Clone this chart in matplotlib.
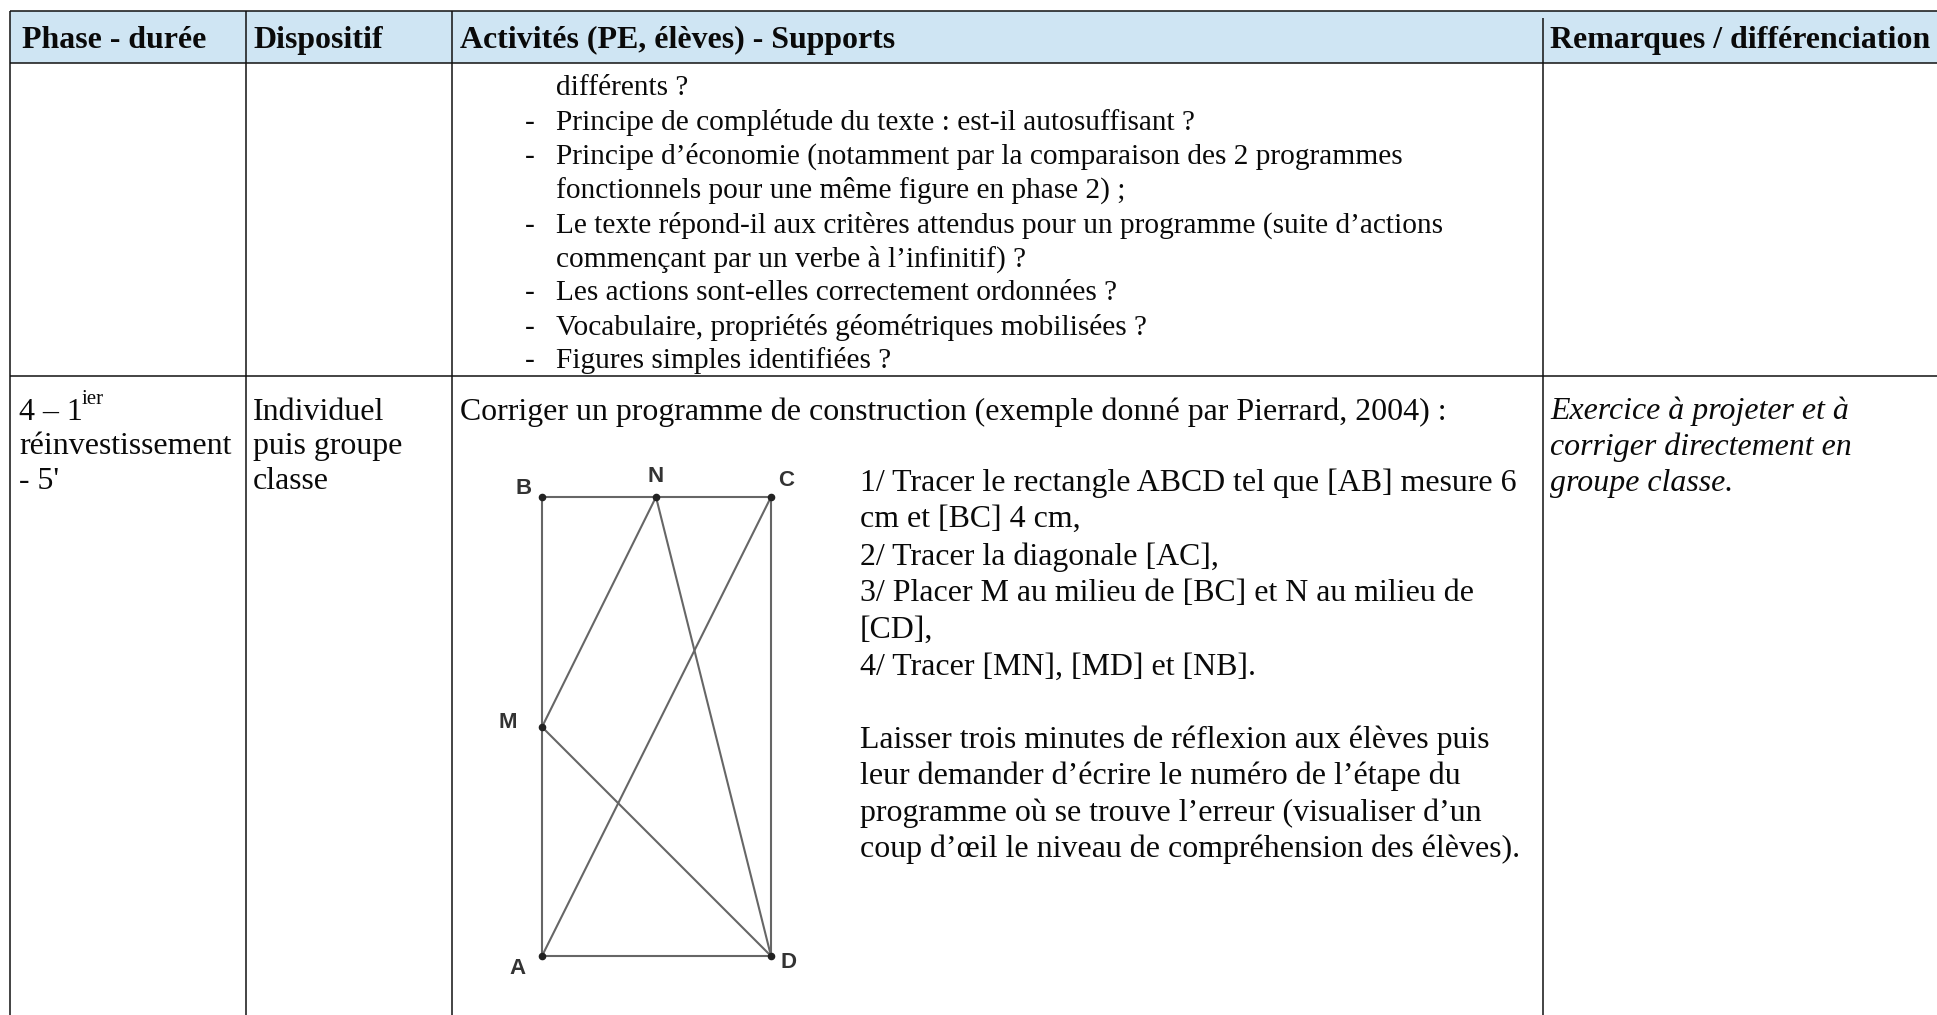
import matplotlib
matplotlib.use("Agg")
import matplotlib.pyplot as plt
from matplotlib.patches import Rectangle

W, H = 1937, 1015
SERIF = "Liberation Serif"
SANS = "Liberation Sans"

col_edges = [10, 246, 452, 1543]
row_edges = [11, 63, 376, 1015]
header_labels = ["Phase - durée", "Dispositif", "Activités (PE, élèves) - Supports", "Remarques / différenciation"]
header_x = [22, 253, 460, 1550]
header_base = 48

bullet_x, text_x = 525, 556
cont_lines = [
    ("", "différents ?", 95),
    ("-", "Principe de complétude du texte : est-il autosuffisant ?", 130),
    ("-", "Principe d’économie (notamment par la comparaison des 2 programmes", 164),
    ("", "fonctionnels pour une même figure en phase 2) ;", 198),
    ("-", "Le texte répond-il aux critères attendus pour un programme (suite d’actions", 233),
    ("", "commençant par un verbe à l’infinitif) ?", 267),
    ("-", "Les actions sont-elles correctement ordonnées ?", 300),
    ("-", "Vocabulaire, propriétés géométriques mobilisées ?", 335),
    ("-", "Figures simples identifiées ?", 368),
]

phase_lines = [("4 – 1", 420), ("réinvestissement", 454), ("- 5'", 489)]
phase_sup = ("ier", 82, 404)
disp_lines = [("Individuel", 420), ("puis groupe", 454), ("classe", 489)]
task_title = ("Corriger un programme de construction (exemple donné par Pierrard, 2004) :", 460, 420)
prog_x = 860
prog_lines = [
    ("1/ Tracer le rectangle ABCD tel que [AB] mesure 6", 491),
    ("cm et [BC] 4 cm,", 527),
    ("2/ Tracer la diagonale [AC],", 565),
    ("3/ Placer M au milieu de [BC] et N au milieu de", 601),
    ("[CD],", 638),
    ("4/ Tracer [MN], [MD] et [NB].", 675),
    ("Laisser trois minutes de réflexion aux élèves puis", 748),
    ("leur demander d’écrire le numéro de l’étape du", 784),
    ("programme où se trouve l’erreur (visualiser d’un", 821),
    ("coup d’œil le niveau de compréhension des élèves).", 857),
]
remark_x = 1550
remark_lines = [("Exercice à projeter et à", 419), ("corriger directement en", 455), ("groupe classe.", 491)]

points = {"A": (542, 956), "B": (542, 497), "C": (771, 497), "D": (771, 956), "M": (542, 727), "N": (656, 497)}
segments = [("A", "B"), ("B", "C"), ("C", "D"), ("D", "A"), ("A", "C"), ("M", "N"), ("M", "D"), ("N", "D")]
label_pos = {"A": (517, 968), "B": (524, 489), "C": (786, 480), "D": (788, 963), "M": (508, 723), "N": (656, 477)}

HEADER_FILL = "#cfe5f3"
LINE = "#111111"

fig = plt.figure(figsize=(W / 100, H / 100), dpi=100)
ax = fig.add_axes([0, 0, 1, 1])
ax.set_xlim(0, W)
ax.set_ylim(H, 0)
ax.axis("off")

ax.add_patch(Rectangle((col_edges[0], row_edges[0]), W - col_edges[0], row_edges[1] - row_edges[0],
                       fc=HEADER_FILL, ec="none", zorder=0))
for y in row_edges[:3]:
    ax.plot([col_edges[0], W], [y, y], color=LINE, lw=1.1, zorder=2, solid_capstyle="butt")
for i, x in enumerate(col_edges):
    top = 18 if i == 3 else row_edges[0]
    ax.plot([x, x], [top, H], color=LINE, lw=1.1, zorder=2, solid_capstyle="butt")

FS = 22.95
FS_SMALL = 21.2
def put(x, y, s, **kw):
    kw.setdefault("fontsize", FS)
    kw.setdefault("family", SERIF)
    ax.text(x, y, s, va="baseline", ha="left", color="#0a0a0a", **kw)

for s, x in zip(header_labels, header_x):
    put(x, header_base, s, fontweight="bold")
for b, s, y in cont_lines:
    if b:
        put(bullet_x, y, b, fontsize=FS_SMALL)
    put(text_x, y, s, fontsize=FS_SMALL)
for s, y in phase_lines:
    put(col_edges[0] + 9, y, s)
put(phase_sup[1], phase_sup[2], phase_sup[0], fontsize=15)
for s, y in disp_lines:
    put(header_x[1], y, s)
put(task_title[1], task_title[2], task_title[0])
for s, y in prog_lines:
    put(prog_x, y, s)
for s, y in remark_lines:
    put(remark_x, y, s, fontstyle="italic")

for a, b in segments:
    ax.plot([points[a][0], points[b][0]], [points[a][1], points[b][1]], color="#666666", lw=1.5, zorder=3)
ax.scatter([p[0] for p in points.values()], [p[1] for p in points.values()], s=20, color="#222222", zorder=4)
for k, (x, y) in label_pos.items():
    ax.text(x, y, k, ha="center", va="center", family=SANS, fontweight="bold", fontsize=16, color="#333333")

fig.savefig("out.png", dpi=100, facecolor="white")
